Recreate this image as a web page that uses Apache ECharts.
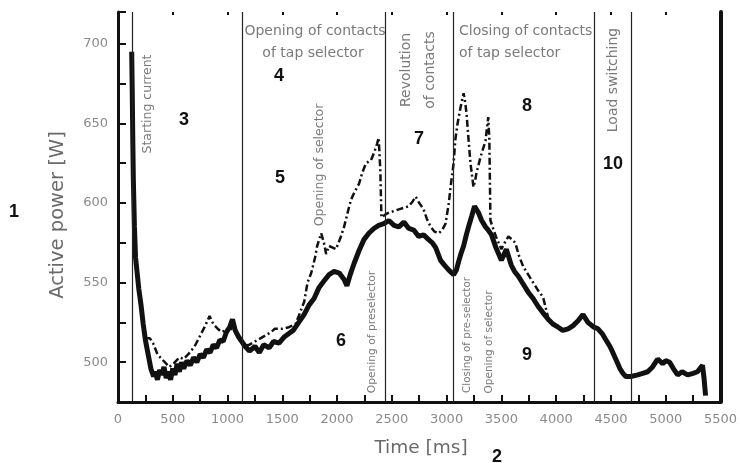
<!DOCTYPE html>
<html>
<head>
<meta charset="utf-8">
<script src="https://cdn.jsdelivr.net/npm/echarts@6/dist/echarts.min.js"></script>
<style>
  html, body { margin: 0; padding: 0; background: #fff; }
  #chart { width: 740px; height: 463px; }
</style>
</head>
<body>
<div id="chart"></div>
<script>
// solid trace (time in ms, active power in W)
const solidTime = [125, 130, 135, 140, 150, 160, 175, 190, 210, 230, 250, 275, 300, 325, 340, 360, 380, 400, 420, 440,
  460, 480, 500, 520, 540, 560, 580, 600, 630, 660, 690, 720, 750, 780, 810, 840, 870, 900, 930, 960,
  990, 1020, 1045, 1070, 1100, 1130, 1160, 1200, 1250, 1290, 1330, 1380, 1420, 1470, 1520, 1560, 1600, 1650, 1700, 1745,
  1790, 1836, 1880, 1927, 1973, 2020, 2064, 2090, 2120, 2155, 2200, 2245, 2290, 2336, 2380, 2427, 2473, 2520, 2564, 2610,
  2655, 2700, 2745, 2790, 2836, 2870, 2900, 2945, 2980, 3018, 3064, 3090, 3109, 3130, 3155, 3180, 3200, 3230, 3255, 3290,
  3320, 3355, 3380, 3410, 3450, 3500, 3545, 3590, 3620, 3655, 3700, 3745, 3790, 3836, 3880, 3927, 3970, 4018, 4060, 4109,
  4155, 4200, 4245, 4290, 4345, 4382, 4420, 4455, 4490, 4518, 4550, 4582, 4610, 4636, 4682, 4745, 4790, 4836, 4880, 4927,
  4973, 5000, 5036, 5070, 5109, 5150, 5200, 5250, 5290, 5336, 5350, 5364]
const solidPower = [695, 670, 640, 615, 585, 566, 556, 546, 536, 524, 514, 505, 496, 491, 494, 489, 495, 492, 497, 490,
  494, 489, 496, 492, 499, 494, 500, 496, 501, 498, 503, 500, 505, 503, 508, 506, 511, 509, 514, 513,
  519, 522, 527, 520, 516, 513, 510, 507, 510, 506, 511, 509, 513, 512, 516, 518, 520, 525, 530, 536,
  540, 547, 551, 555, 557, 556, 552, 548, 555, 562, 570, 577, 581, 584, 586, 587, 589, 586, 585, 588,
  584, 583, 579, 580, 577, 575, 572, 564, 561, 558, 555, 558, 563, 568, 573, 580, 585, 592, 598, 594,
  589, 585, 583, 580, 572, 564, 571, 561, 557, 554, 549, 544, 540, 535, 531, 527, 524, 522, 520, 521,
  523, 526, 530, 525, 522, 521, 518, 514, 510, 506, 501, 496, 493, 491, 491, 492, 493, 494, 497, 502,
  499, 501, 500, 496, 492, 494, 492, 493, 494, 498, 490, 479]

// dash-dot trace
const dashTime = [250, 291, 320, 360, 400, 427, 470, 520, 560, 600, 655, 700, 745, 790, 836, 870, 910, 945, 980, 1018,
  1050, 1082, 1110, 1150, 1200, 1250, 1300, 1350, 1400, 1430, 1500, 1560, 1620, 1650, 1700, 1730, 1764, 1800, 1818, 1855,
  1880, 1900, 1927, 1960, 1990, 2030, 2064, 2100, 2127, 2160, 2200, 2230, 2264, 2310, 2340, 2364, 2380, 2395, 2405, 2445,
  2473, 2520, 2564, 2610, 2655, 2690, 2718, 2750, 2790, 2820, 2855, 2890, 2927, 2960, 2990, 3020, 3036, 3064, 3080, 3100,
  3127, 3155, 3170, 3182, 3200, 3218, 3245, 3260, 3273, 3310, 3355, 3370, 3380, 3390, 3400, 3450, 3500, 3530, 3564, 3600,
  3627, 3660, 3700, 3745, 3790, 3836, 3880, 3927]
const dashPower = [515, 515, 512, 505, 502, 500, 497, 500, 503, 502, 506, 510, 516, 522, 529, 524, 521, 519, 520, 522,
  520, 519, 514, 510, 511, 513, 515, 517, 519, 521, 521, 522, 524, 529, 538, 550, 556, 566, 573, 581,
  575, 568, 573, 572, 571, 578, 585, 595, 602, 607, 612, 619, 625, 627, 632, 637, 641, 620, 591, 593,
  594, 595, 596, 597, 598, 601, 604, 600, 596, 590, 585, 582, 581, 583, 587, 600, 610, 625, 640, 650,
  660, 669, 663, 656, 640, 625, 610, 614, 619, 629, 639, 648, 654, 640, 589, 579, 571, 575, 579, 577,
  575, 567, 560, 555, 550, 545, 541, 528]

// phase boundaries (ms)
const boundaries = [127, 1136, 2440, 3060, 4345, 4682]

// labelled y ticks
const yTickValues = [500, 550, 600, 650, 700]

const chart = echarts.init(document.getElementById('chart'))

const labelColor = '#8a8a8a'
const noteColor = '#7a7a7a'

function note(text, x, y, size, opts) {
  opts = opts || {}
  return {
    type: 'text',
    x: x,
    y: y,
    rotation: opts.vertical ? Math.PI / 2 : 0,
    style: {
      text: text,
      fill: opts.color || noteColor,
      font: (opts.bold ? 'bold ' : '') + size + 'px ' + (opts.family || '"DejaVu Sans"'),
      textAlign: opts.align || 'center',
      textVerticalAlign: 'middle'
    }
  }
}

function num(text, x, y) {
  return note(text, x, y, 18, { bold: true, color: '#111', family: '"Liberation Sans"' })
}

const option = {
  animation: false,
  backgroundColor: '#fff',
  grid: { left: 118, right: 17, top: 12, bottom: 61 },
  xAxis: [{
    type: 'value',
    min: 0,
    max: 5500,
    interval: 500,
    axisLine: { show: true, onZero: false, lineStyle: { color: '#111', width: 3 } },
    axisTick: { show: true, inside: true, length: 7, lineStyle: { color: '#111', width: 2 } },
    minorTick: { show: true, splitNumber: 2, length: 7, lineStyle: { color: '#111', width: 2 } },
    axisLabel: { color: labelColor, fontSize: 13, fontFamily: 'DejaVu Sans', margin: 11, formatter: v => String(v) },
    splitLine: { show: false }
  }, {
    type: 'value',
    position: 'top',
    min: 0,
    max: 5500,
    interval: 500,
    axisLine: { show: false, onZero: false },
    axisTick: { show: true, inside: true, length: 3, lineStyle: { color: '#111', width: 2 } },
    axisLabel: { show: false },
    splitLine: { show: false }
  }],
  yAxis: [{
    type: 'value',
    min: 475,
    max: 720,
    interval: 25,
    axisLine: { show: true, onZero: false, lineStyle: { color: '#111', width: 3 } },
    axisTick: { show: true, inside: true, length: 8, lineStyle: { color: '#111', width: 2 } },
    axisLabel: {
      color: labelColor, fontSize: 13, fontFamily: 'DejaVu Sans', margin: 10,
      formatter: v => yTickValues.indexOf(v) >= 0 ? String(v) : ''
    },
    splitLine: { show: false }
  }, {
    type: 'value',
    position: 'right',
    min: 475,
    max: 720,
    axisLine: { show: true, onZero: false, lineStyle: { color: '#111', width: 4 } },
    axisTick: { show: false },
    axisLabel: { show: false },
    splitLine: { show: false }
  }],
  series: [{
    name: 'solid',
    type: 'line',
    data: solidTime.map((t, i) => [t, solidPower[i]]),
    showSymbol: false,
    symbol: 'none',
    lineStyle: { color: '#111', width: 5 },
    markLine: {
      silent: true,
      symbol: 'none',
      label: { show: false },
      lineStyle: { color: '#222', width: 1.2, type: 'solid' },
      data: boundaries.map(b => ({ xAxis: b }))
    },
    z: 3
  }, {
    name: 'dashed',
    type: 'line',
    data: dashTime.map((t, i) => [t, dashPower[i]]),
    showSymbol: false,
    symbol: 'none',
    lineStyle: { color: '#111', width: 2.5, type: [7, 3, 2, 3] },
    z: 4
  }],
  graphic: [
    note('Active power [W]', 58, 215, 19.5, { vertical: true, color: '#6a6a6a' }),
    note('Time [ms]', 421, 448, 18.5, { color: '#6a6a6a' }),
    note('Starting current', 148, 104, 12.5, { vertical: true }),
    note('Opening of contacts', 315, 31, 14),
    note('of tap selector', 313, 53, 14),
    note('Revolution', 406, 70, 14, { vertical: true }),
    note('of contacts', 430, 70, 14, { vertical: true }),
    note('Closing of contacts', 459, 31, 14, { align: 'left' }),
    note('of tap selector', 459, 53, 14, { align: 'left' }),
    note('Load switching', 613, 80, 14, { vertical: true }),
    note('Opening of selector', 320, 165, 12.5, { vertical: true }),
    note('Opening of preselector', 372, 332, 10.7, { vertical: true }),
    note('Closing of pre-selector', 467, 335, 10.3, { vertical: true }),
    note('Opening of selector', 489, 342, 10.5, { vertical: true }),
    num('1', 14, 212),
    num('2', 497, 457),
    num('3', 184, 120),
    num('4', 279, 76),
    num('5', 280, 178),
    num('6', 341, 341),
    num('7', 419, 139),
    num('8', 527, 106),
    num('9', 527, 355),
    num('10', 613, 164)
  ]
}

chart.setOption(option)
</script>
</body>
</html>
